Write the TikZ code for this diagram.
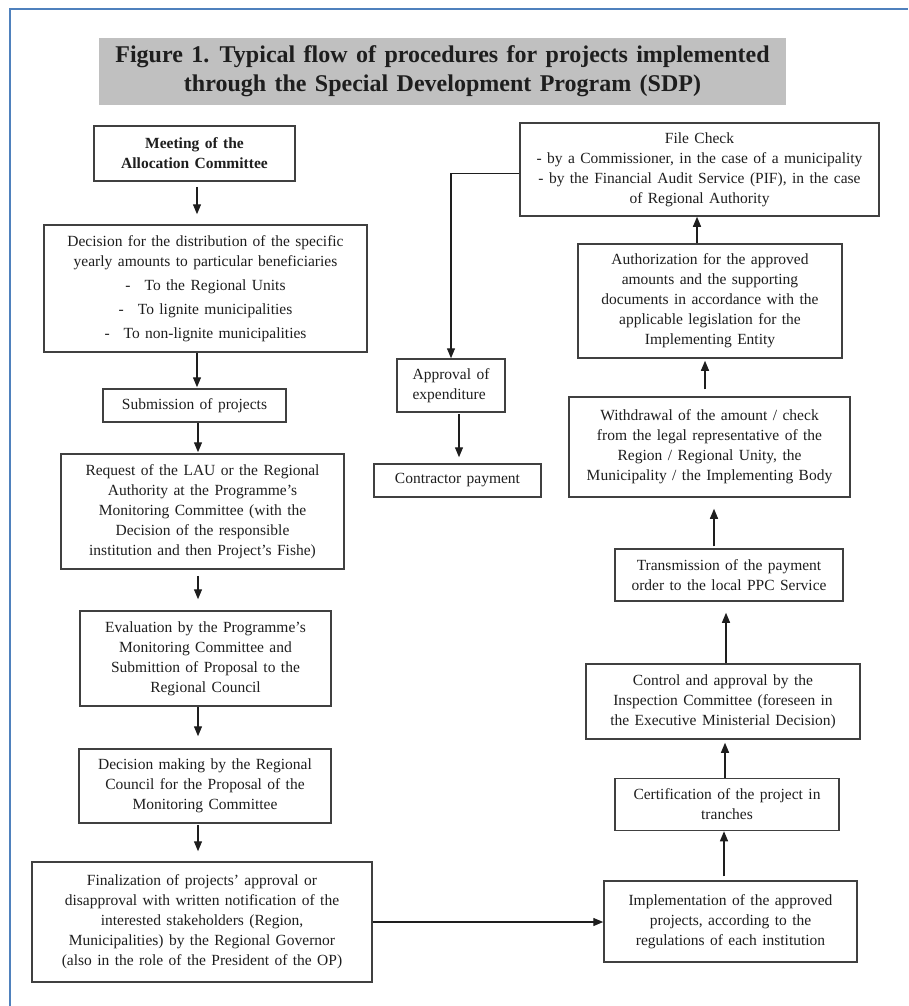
\documentclass[tikz,border=0pt]{standalone}
\usepackage{fontspec}
\setmainfont[WordSpace=1.4]{Liberation Serif}
\usetikzlibrary{arrows.meta,positioning}
\definecolor{SdpFrame}{RGB}{79,129,189}
\definecolor{SdpTitleGray}{RGB}{192,192,192}
\definecolor{SdpEdge}{RGB}{64,64,64}
\definecolor{SdpInk}{RGB}{30,30,30}
\tikzset{
  sdp/box/.style={
    draw=SdpEdge,
    line width=1.5pt,
    fill=white,
    align=center,
    text=SdpInk,
    inner sep=2pt,
    font=\fontsize{15.5}{20}\selectfont
  },
  sdp/title/.style={
    fill=SdpTitleGray,
    align=center,
    text=SdpInk,
    inner sep=0pt,
    font=\fontsize{24}{29}\selectfont\bfseries
  },
  sdp/arrow/.style={-{Triangle[length=10pt,width=8pt]}, line width=1.3pt, draw=SdpInk},
  sdp/frame/.style={draw=SdpFrame, line width=2pt}
}
\begin{document}
\begin{tikzpicture}[x=1pt,y=-1pt]
  \useasboundingbox (0,0) rectangle (908,1006);
  \draw[sdp/frame] (10,1006) -- (10,9) -- (908,9);

  \node[sdp/title, minimum width=687, minimum height=67] (title) at (442.5,71.5)
    {Figure 1. Typical flow of procedures for projects implemented\\through the Special Development Program (SDP)};

  \node[sdp/box, minimum width=201, minimum height=55] (meet) at (194.5,153.5)
    {\bfseries Meeting of the\\\bfseries Allocation Committee};
  \node[sdp/box, minimum width=323, minimum height=127] (dist) at (205.5,288.5)
    {Decision for the distribution of the specific\\yearly amounts to particular beneficiaries\\[4pt]
     -\hspace{14pt}To the Regional Units\\[4pt]
     -\hspace{14pt}To lignite municipalities\\[4pt]
     -\hspace{14pt}To non-lignite municipalities};
  \node[sdp/box, minimum width=183, minimum height=33] (subm) at (194.5,405.5)
    {Submission of projects};
  \node[sdp/box, minimum width=283, minimum height=115] (req) at (202.5,511.5)
    {Request of the LAU or the Regional\\Authority at the Programme's\\Monitoring Committee (with the\\Decision of the responsible\\institution and then Project's Fishe)};
  \node[sdp/box, minimum width=251, minimum height=95] (eval) at (205.5,658.5)
    {Evaluation by the Programme's\\Monitoring Committee and\\Submittion of Proposal to the\\Regional Council};
  \node[sdp/box, minimum width=252, minimum height=74] (dmak) at (205,786)
    {Decision making by the Regional\\Council for the Proposal of the\\Monitoring Committee};
  \node[sdp/box, minimum width=340, minimum height=120] (fin) at (202,922)
    {Finalization of projects' approval or\\disapproval with written notification of the\\interested stakeholders (Region,\\Municipalities) by the Regional Governor\\(also in the role of the President of the OP)};

  \node[sdp/box, minimum width=253, minimum height=81] (impl) at (730.5,921.5)
    {Implementation of the approved\\projects, according to the\\regulations of each institution};
  \node[sdp/box, minimum width=224, minimum height=52] (cert) at (727,804.5)
    {Certification of the project in\\tranches};
  \node[sdp/box, minimum width=274, minimum height=75] (ctrl) at (723,701.5)
    {Control and approval by the\\Inspection Committee (foreseen in\\the Executive Ministerial Decision)};
  \node[sdp/box, minimum width=228, minimum height=52] (trans) at (729,575)
    {Transmission of the payment\\order to the local PPC Service};
  \node[sdp/box, minimum width=281, minimum height=100] (wdr) at (709.5,447)
    {Withdrawal of the amount / check\\from the legal representative of the\\Region / Regional Unity, the\\Municipality / the Implementing Body};
  \node[sdp/box, minimum width=264, minimum height=114] (auth) at (710,301)
    {Authorization for the approved\\amounts and the supporting\\documents in accordance with the\\applicable legislation for the\\Implementing Entity};
  \node[sdp/box, minimum width=359, minimum height=93] (file) at (699.5,169.5)
    {File Check\\- by a Commissioner, in the case of a municipality\\- by the Financial Audit Service (PIF), in the case\\of Regional Authority};

  \node[sdp/box, align=left, minimum width=108, minimum height=53] (appr) at (451,385.5)
    {Approval of\\expenditure};
  \node[sdp/box, minimum width=167, minimum height=33] (contr) at (457.5,480.5)
    {Contractor payment};

  \foreach \a/\b/\x/\s/\t in {meet/dist/197/5/10, dist/subm/197/0/1, subm/req/198/0/1,
                              req/eval/198/6/11, eval/dmak/198/0/12, dmak/fin/198/1/10,
                              appr/contr/459/1/6}{
    \draw[sdp/arrow, shorten <=\s pt, shorten >=\t pt] (\a.south -| \x,0) -- (\b.north -| \x,0);
  }
  \foreach \a/\b/\x/\s/\t in {impl/cert/724/4/0, cert/ctrl/725/0/3, ctrl/trans/726/0/11,
                              trans/wdr/714/2/11, wdr/auth/705/7/2, auth/file/697/0/0}{
    \draw[sdp/arrow, shorten <=\s pt, shorten >=\t pt] (\a.north -| \x,0) -- (\b.south -| \x,0);
  }
  \draw[sdp/arrow] (fin.east) -- (fin.east -| impl.west);
  \draw[sdp/arrow] ([yshift=-4pt]file.west) -| (appr.north);
\end{tikzpicture}
\end{document}
